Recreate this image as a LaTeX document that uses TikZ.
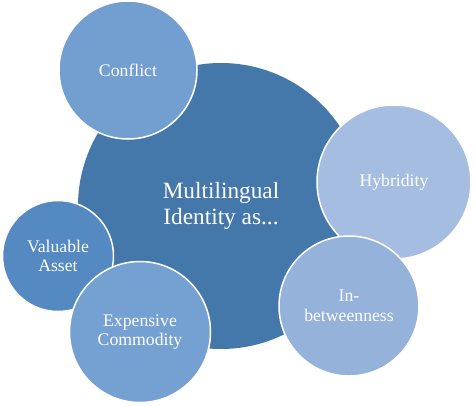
\documentclass[tikz,border=0pt]{standalone}
\usepackage{fontspec}
\setmainfont{Liberation Serif}
\definecolor{bigc}{RGB}{69,120,170}
\definecolor{conflictc}{RGB}{114,159,207}
\definecolor{hybc}{RGB}{165,189,224}
\definecolor{inbc}{RGB}{149,178,219}
\definecolor{valc}{RGB}{84,137,194}
\definecolor{expc}{RGB}{117,161,210}
\tikzset{
  bubble/.style={circle, draw=white, line width=1.5pt, inner sep=0pt,
    text=white, align=center, font=\fontsize{17.7}{19.5}\selectfont},
}
\begin{document}
\begin{tikzpicture}[x=1pt,y=-1pt]
\useasboundingbox (0,0) rectangle (474,405);
\node[bubble, fill=bigc, draw=none, minimum size=286pt, font=\fontsize{23.3}{25.5}\selectfont] (main) at (221,206) {Multilingual\\Identity as...};
\node[bubble, fill=conflictc, minimum size=138pt] (conflict) at (128,70) {Conflict};
\node[bubble, fill=hybc, minimum size=154pt] (hyb) at (394,182) {Hybridity};
\node[bubble, fill=inbc, minimum size=140pt] (inb) at (349,306) {In-\\betweenness};
\node[bubble, fill=valc, minimum size=111pt] (val) at (58,256) {Valuable\\Asset};
\node[bubble, fill=expc, minimum size=141pt] (exp) at (140,332) {Expensive\\Commodity};
\end{tikzpicture}
\end{document}
